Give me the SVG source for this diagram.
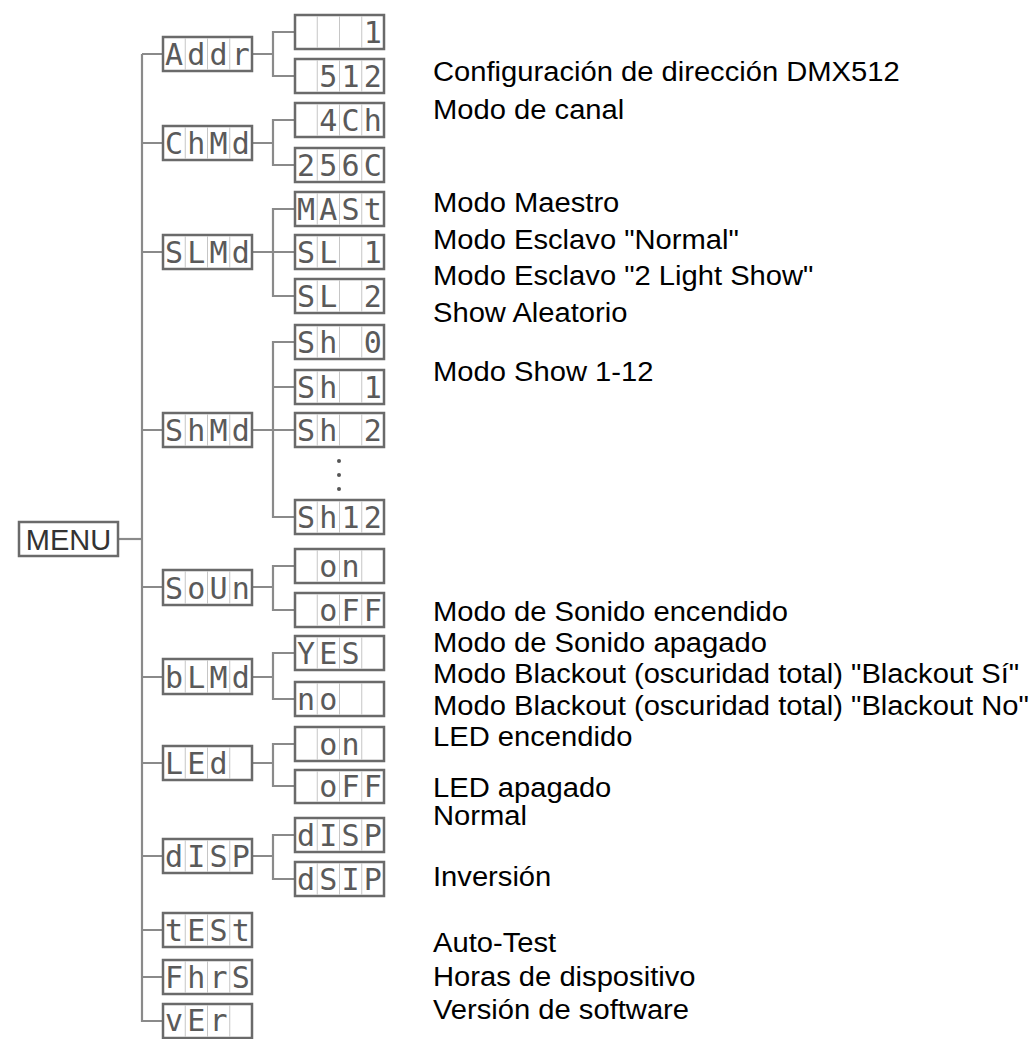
<svg xmlns="http://www.w3.org/2000/svg" width="1034" height="1039" viewBox="0 0 1034 1039">
<defs>
<style>
.bx{fill:#fff;stroke:#6a6a6a;stroke-width:2.5}
.dv{stroke:#c6c6c6;stroke-width:1}
.sg{font-family:"DejaVu Sans Mono",monospace;font-size:30px;fill:#5a5a5a;text-anchor:middle}
.ln{fill:none;stroke:#8a8a8a;stroke-width:2.2}
.lb{font-family:"Liberation Sans",Arial,sans-serif;font-size:27px;fill:#000}
.mn{font-family:"Liberation Sans",Arial,sans-serif;font-size:29px;fill:#333}
.dot{fill:#555}
</style>
</defs>
<rect width="1034" height="1039" fill="#fff"/>

<g id="connectors" class="ln">
<path d="M119,539 H142"/>
<path d="M142,54 V1021 H163"/>
<path d="M142,54 H163 M142,143 H163 M142,252 H163 M142,430 H163 M142,587 H163 M142,677 H163 M142,763 H163 M142,856 H163 M142,930 H163 M142,977 H163"/>
<path d="M252,54 H273 M295,32 H273 V76 H295"/>
<path d="M252,143 H273 M295,120 H273 V165 H295"/>
<path d="M252,252 H295 M295,209 H273 V296 H295"/>
<path d="M252,430 H295 M295,342 H273 V517 H295 M273,387 H295"/>
<path d="M252,587 H273 M295,566 H273 V610 H295"/>
<path d="M252,677 H273 M295,653 H273 V699 H295"/>
<path d="M252,763 H273 M295,744 H273 V786 H295"/>
<path d="M252,856 H273 M295,835 H273 V879 H295"/>
</g>

<g id="menu">
<rect class="bx" x="19" y="522" width="99" height="34"/>
<text class="mn" x="68.5" y="550" text-anchor="middle">MENU</text>
</g>

<g id="n-addr"><rect class="bx" x="163" y="37" width="89" height="34"/><path class="dv" d="M185.25,38V70M207.5,38V70M229.75,38V70"/><text class="sg" x="174.1 196.4 218.6 240.9" y="65">Addr</text></g>
<g id="n-chmd"><rect class="bx" x="163" y="126" width="89" height="34"/><path class="dv" d="M185.25,127V159M207.5,127V159M229.75,127V159"/><text class="sg" x="174.1 196.4 218.6 240.9" y="154">ChMd</text></g>
<g id="n-slmd"><rect class="bx" x="163" y="235" width="89" height="34"/><path class="dv" d="M185.25,236V268M207.5,236V268M229.75,236V268"/><text class="sg" x="174.1 196.4 218.6 240.9" y="263">SLMd</text></g>
<g id="n-shmd"><rect class="bx" x="163" y="413" width="89" height="34"/><path class="dv" d="M185.25,414V446M207.5,414V446M229.75,414V446"/><text class="sg" x="174.1 196.4 218.6 240.9" y="441">ShMd</text></g>
<g id="n-soun"><rect class="bx" x="163" y="570" width="89" height="35"/><path class="dv" d="M185.25,571V604M207.5,571V604M229.75,571V604"/><text class="sg" x="174.1 196.4 218.6 240.9" y="599">SoUn</text></g>
<g id="n-blmd"><rect class="bx" x="163" y="659" width="89" height="35"/><path class="dv" d="M185.25,660V693M207.5,660V693M229.75,660V693"/><text class="sg" x="174.1 196.4 218.6 240.9" y="688">bLMd</text></g>
<g id="n-led"><rect class="bx" x="163" y="746" width="89" height="34"/><path class="dv" d="M185.25,747V779M207.5,747V779M229.75,747V779"/><text class="sg" x="174.1 196.4 218.6" y="774">LEd</text></g>
<g id="n-disp"><rect class="bx" x="163" y="839" width="89" height="34"/><path class="dv" d="M185.25,840V872M207.5,840V872M229.75,840V872"/><text class="sg" x="174.1 196.4 218.6 240.9" y="867">dISP</text></g>
<g id="n-test"><rect class="bx" x="163" y="913" width="89" height="34"/><path class="dv" d="M185.25,914V946M207.5,914V946M229.75,914V946"/><text class="sg" x="174.1 196.4 218.6 240.9" y="941">tESt</text></g>
<g id="n-fhrs"><rect class="bx" x="163" y="960" width="89" height="34"/><path class="dv" d="M185.25,961V993M207.5,961V993M229.75,961V993"/><text class="sg" x="174.1 196.4 218.6 240.9" y="988">FhrS</text></g>
<g id="n-ver"><rect class="bx" x="163" y="1004" width="89" height="34"/><path class="dv" d="M185.25,1005V1037M207.5,1005V1037M229.75,1005V1037"/><text class="sg" x="174.1 196.4 218.6" y="1031" font-size="28">vEr</text></g>

<g id="c-addr-1"><rect class="bx" x="295" y="15" width="89" height="34"/><path class="dv" d="M317.25,16V48M339.5,16V48M361.75,16V48"/><text class="sg" x="372.9" y="43">1</text></g>
<g id="c-addr-512"><rect class="bx" x="295" y="59" width="89" height="34"/><path class="dv" d="M317.25,60V92M339.5,60V92M361.75,60V92"/><text class="sg" x="328.4 350.6 372.9" y="87">512</text></g>
<g id="c-ch-4"><rect class="bx" x="295" y="103" width="89" height="34"/><path class="dv" d="M317.25,104V136M339.5,104V136M361.75,104V136"/><text class="sg" x="328.4 350.6 372.9" y="131">4Ch</text></g>
<g id="c-ch-256"><rect class="bx" x="295" y="148" width="89" height="34"/><path class="dv" d="M317.25,149V181M339.5,149V181M361.75,149V181"/><text class="sg" x="306.1 328.4 350.6 372.9" y="176">256C</text></g>
<g id="c-sl-mast"><rect class="bx" x="295" y="192" width="89" height="34"/><path class="dv" d="M317.25,193V225M339.5,193V225M361.75,193V225"/><text class="sg" x="306.1 328.4 350.6 372.9" y="220">MASt</text></g>
<g id="c-sl-1"><rect class="bx" x="295" y="235" width="89" height="34"/><path class="dv" d="M317.25,236V268M339.5,236V268M361.75,236V268"/><text class="sg" x="306.1 328.4 350.6 372.9" y="263">SL 1</text></g>
<g id="c-sl-2"><rect class="bx" x="295" y="279" width="89" height="34"/><path class="dv" d="M317.25,280V312M339.5,280V312M361.75,280V312"/><text class="sg" x="306.1 328.4 350.6 372.9" y="307">SL 2</text></g>
<g id="c-sh-0"><rect class="bx" x="295" y="325" width="89" height="34"/><path class="dv" d="M317.25,326V358M339.5,326V358M361.75,326V358"/><text class="sg" x="306.1 328.4 350.6 372.9" y="353">Sh 0</text></g>
<g id="c-sh-1"><rect class="bx" x="295" y="370" width="89" height="34"/><path class="dv" d="M317.25,371V403M339.5,371V403M361.75,371V403"/><text class="sg" x="306.1 328.4 350.6 372.9" y="398">Sh 1</text></g>
<g id="c-sh-2"><rect class="bx" x="295" y="413" width="89" height="34"/><path class="dv" d="M317.25,414V446M339.5,414V446M361.75,414V446"/><text class="sg" x="306.1 328.4 350.6 372.9" y="441">Sh 2</text></g>
<g id="c-sh-dots"><circle class="dot" cx="339" cy="461" r="2"/><circle class="dot" cx="339" cy="475" r="2"/><circle class="dot" cx="339" cy="489" r="2"/></g>
<g id="c-sh-12"><rect class="bx" x="295" y="500" width="89" height="34"/><path class="dv" d="M317.25,501V533M339.5,501V533M361.75,501V533"/><text class="sg" x="306.1 328.4 350.6 372.9" y="528">Sh12</text></g>
<g id="c-so-on"><rect class="bx" x="295" y="549" width="89" height="34"/><path class="dv" d="M317.25,550V582M339.5,550V582M361.75,550V582"/><text class="sg" x="328.4 350.6" y="577">on</text></g>
<g id="c-so-off"><rect class="bx" x="295" y="593" width="89" height="34"/><path class="dv" d="M317.25,594V626M339.5,594V626M361.75,594V626"/><text class="sg" x="328.4 350.6 372.9" y="621">oFF</text></g>
<g id="c-bl-yes"><rect class="bx" x="295" y="636" width="89" height="34"/><path class="dv" d="M317.25,637V669M339.5,637V669M361.75,637V669"/><text class="sg" x="306.1 328.4 350.6" y="664">YES</text></g>
<g id="c-bl-no"><rect class="bx" x="295" y="682" width="89" height="34"/><path class="dv" d="M317.25,683V715M339.5,683V715M361.75,683V715"/><text class="sg" x="306.1 328.4" y="710">no</text></g>
<g id="c-led-on"><rect class="bx" x="295" y="727" width="89" height="34"/><path class="dv" d="M317.25,728V760M339.5,728V760M361.75,728V760"/><text class="sg" x="328.4 350.6" y="755">on</text></g>
<g id="c-led-off"><rect class="bx" x="295" y="770" width="89" height="33"/><path class="dv" d="M317.25,771V802M339.5,771V802M361.75,771V802"/><text class="sg" x="328.4 350.6 372.9" y="797">oFF</text></g>
<g id="c-disp"><rect class="bx" x="295" y="818" width="89" height="34"/><path class="dv" d="M317.25,819V851M339.5,819V851M361.75,819V851"/><text class="sg" x="306.1 328.4 350.6 372.9" y="846">dISP</text></g>
<g id="c-dsip"><rect class="bx" x="295" y="862" width="89" height="34"/><path class="dv" d="M317.25,863V895M339.5,863V895M361.75,863V895"/><text class="sg" x="306.1 328.4 350.6 372.9" y="890">dSIP</text></g>

<g id="labels" transform="translate(433,0) scale(1.08,1)">
<text class="lb" x="0" y="81">Configuración de dirección DMX512</text>
<text class="lb" x="0" y="119">Modo de canal</text>
<text class="lb" x="0" y="212">Modo Maestro</text>
<text class="lb" x="0" y="249">Modo Esclavo "Normal"</text>
<text class="lb" x="0" y="285">Modo Esclavo "2 Light Show"</text>
<text class="lb" x="0" y="322">Show Aleatorio</text>
<text class="lb" x="0" y="381">Modo Show 1-12</text>
<text class="lb" x="0" y="621">Modo de Sonido encendido</text>
<text class="lb" x="0" y="652">Modo de Sonido apagado</text>
<text class="lb" x="0" y="683">Modo Blackout (oscuridad total) "Blackout Sí"</text>
<text class="lb" x="0" y="715">Modo Blackout (oscuridad total) "Blackout No"</text>
<text class="lb" x="0" y="746">LED encendido</text>
<text class="lb" x="0" y="797">LED apagado</text>
<text class="lb" x="0" y="825">Normal</text>
<text class="lb" x="0" y="886">Inversión</text>
<text class="lb" x="0" y="952">Auto-Test</text>
<text class="lb" x="0" y="986">Horas de dispositivo</text>
<text class="lb" x="0" y="1019">Versión de software</text>
</g>
</svg>
